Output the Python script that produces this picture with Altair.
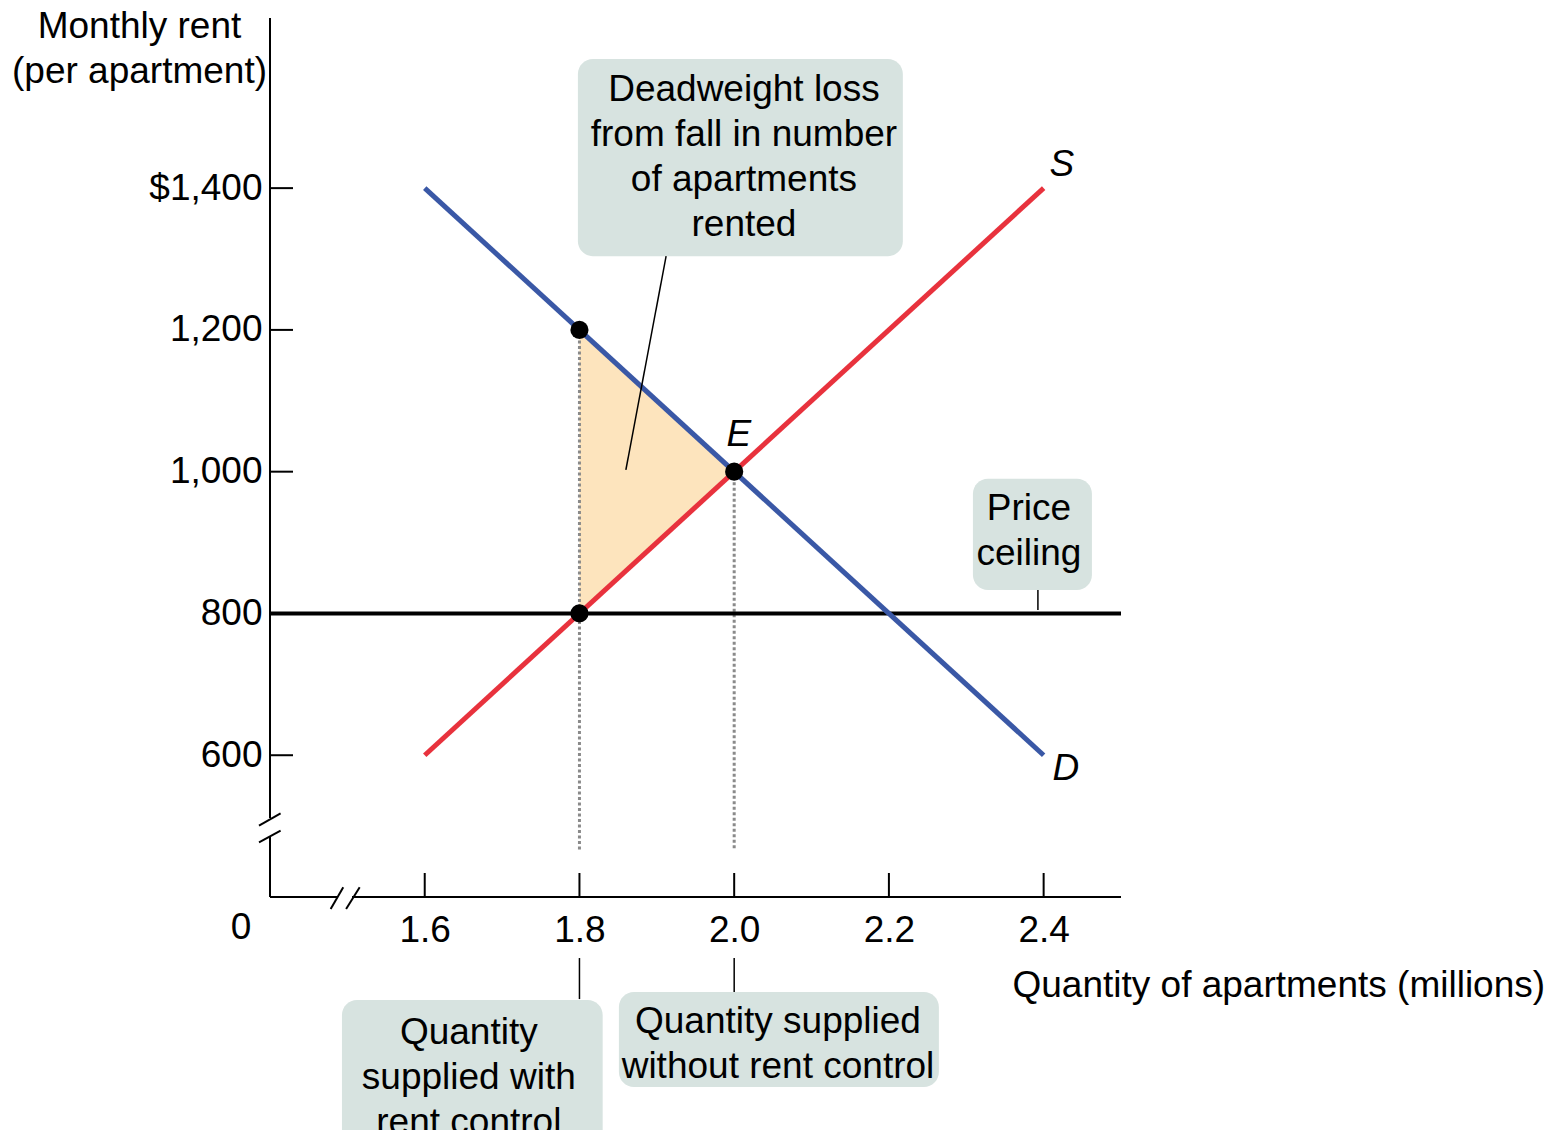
import altair as alt
import pandas as pd

FONT = "Liberation Sans"
FS = 37

# ---- data ----
quantity_ticks = [1.6, 1.8, 2.0, 2.2, 2.4]
price_ticks = [600, 800, 1000, 1200, 1400]

supply_q = [1.6, 2.4]
supply_p = [600, 1400]
demand_q = [1.6, 2.4]
demand_p = [1400, 600]
price_ceiling = 800
q_with_control = 1.8
q_equilibrium = 2.0
p_equilibrium = 1000
p_demand_at_ceiling = 1200

X_DOMAIN = [1.4, 2.5]
Y_DOMAIN = [400, 1640]
W, H = 851, 879

xs = alt.Scale(domain=X_DOMAIN, nice=False, zero=False)
ys = alt.Scale(domain=Y_DOMAIN, nice=False, zero=False)

XAX = alt.Axis(
    values=quantity_ticks, format=".1f", grid=False, domain=False, ticks=False,
    labelFont=FONT, labelFontSize=FS, labelColor="black", labelPadding=15,
    title="Quantity of apartments (millions)", titleFont=FONT, titleFontSize=FS,
    titleFontWeight="normal", titleColor="black", titleX=742, titleY=88,
    titleAlign="left", titleAnchor="start", titleBaseline="middle")
YAX = alt.Axis(
    values=price_ticks, grid=False, domain=False, ticks=False,
    labelExpr="datum.value == 1400 ? '$1,400' : format(datum.value, ',')",
    labelFont=FONT, labelFontSize=FS, labelColor="black", labelPadding=8,
    title=["Monthly rent", "(per apartment)"], titleFont=FONT, titleFontSize=FS,
    titleFontWeight="normal", titleColor="black", titleAngle=0,
    titleX=-131, titleY=19, titleAlign="center", titleBaseline="alphabetic",
    titleLineHeight=45)


def X(f="x"):
    return alt.X(f"{f}:Q", scale=xs, axis=XAX)


def Y(f="y"):
    return alt.Y(f"{f}:Q", scale=ys, axis=YAX)


RED = "#e8323d"
BLUE = "#3a58a6"
BOX = "#d7e3e0"
TRI = "#fde4bd"

supply_df = pd.DataFrame({"x": supply_q, "y": supply_p})
demand_df = pd.DataFrame({"x": demand_q, "y": demand_p})

# Deadweight-loss triangle
tri_df = pd.DataFrame({
    "x": [q_with_control, q_equilibrium],
    "y": [p_demand_at_ceiling, p_equilibrium],
    "y2": [price_ceiling, p_equilibrium],
})
tri = alt.Chart(tri_df).mark_area(color=TRI, opacity=1).encode(
    x=X(), y=Y(), y2="y2:Q")

# dotted guide lines
dot_df = pd.DataFrame({
    "x": [q_with_control, q_equilibrium],
    "y": [p_demand_at_ceiling - 15, p_equilibrium - 15],
    "y2": [466, 466],
})
dotted = alt.Chart(dot_df).mark_rule(color="#8a8a8a", strokeWidth=3, strokeDash=[3, 2.5]).encode(
    x=X(), y=Y(), y2="y2:Q")

# price ceiling line
ceil_df = pd.DataFrame({"x": [X_DOMAIN[0]], "x2": [X_DOMAIN[1]], "y": [price_ceiling]})
ceiling = alt.Chart(ceil_df).mark_rule(color="black", strokeWidth=4).encode(
    x=X(), x2="x2:Q", y=Y())

supply = alt.Chart(supply_df).mark_line(color=RED, strokeWidth=5).encode(x=X(), y=Y())
demand = alt.Chart(demand_df).mark_line(color=BLUE, strokeWidth=5).encode(x=X(), y=Y())

# points
pts_df = pd.DataFrame({
    "x": [q_with_control, q_equilibrium, q_with_control],
    "y": [p_demand_at_ceiling, p_equilibrium, price_ceiling],
})
points = alt.Chart(pts_df).mark_point(filled=True, color="black", size=330, opacity=1).encode(
    x=X(), y=Y())

# axis lines with breaks
axis_df = pd.DataFrame({
    "x": [1.4, 1.4, 1.4, 1.506],
    "x2": [1.4, 1.4, 1.4866, 2.5],
    "y": [1640, 485, 400, 400],
    "y2": [511.5, 400, 400, 400],
})
axes = alt.Chart(axis_df).mark_rule(color="black", strokeWidth=2).encode(
    x=X(), x2="x2:Q", y=Y(), y2="y2:Q")

break_df = pd.DataFrame({
    "x": [1.3858, 1.3858, 1.4784, 1.4984],
    "x2": [1.4137, 1.4137, 1.4947, 1.5159],
    "y": [500.6, 477.2, 383, 383],
    "y2": [518.1, 493.5, 413.7, 413.7],
})
breaks = alt.Chart(break_df).mark_rule(color="black", strokeWidth=2).encode(
    x=X(), x2="x2:Q", y=Y(), y2="y2:Q")

# tick marks pointing into the plot
ytick_df = pd.DataFrame({"y": price_ticks})
yticks = alt.Chart(ytick_df).mark_rule(color="black", strokeWidth=2).encode(
    y=Y(), x=alt.value(0), x2=alt.value(23))
xtick_df = pd.DataFrame({"x": quantity_ticks})
xticks = alt.Chart(xtick_df).mark_rule(color="black", strokeWidth=2).encode(
    x=X(), y=alt.value(H), y2=alt.value(H - 24))

# origin label
zero_df = pd.DataFrame({"x": [1.3625], "y": [356], "t": ["0"]})
zero = alt.Chart(zero_df).mark_text(font=FONT, fontSize=FS, color="black",
                                    align="center", baseline="middle").encode(
    x=X(), y=Y(), text="t:N")

# curve labels
lab_df = pd.DataFrame({
    "x": [2.4236, 2.4288],
    "y": [1433, 580],
    "t": ["S", "D"],
})
curve_labels = alt.Chart(lab_df).mark_text(font=FONT, fontSize=FS, color="black",
                                           fontStyle="italic", align="center", baseline="middle").encode(
    x=X(), y=Y(), text="t:N")
e_df = pd.DataFrame({"x": [2.006], "y": [1052], "t": ["E"]})
e_label = alt.Chart(e_df).mark_text(font=FONT, fontSize=FS, color="black",
                                    fontStyle="italic", align="center", baseline="middle").encode(
    x=X(), y=Y(), text="t:N")

# annotation boxes
box_df = pd.DataFrame({
    "x": [1.798, 2.3086, 1.493, 1.851],
    "x2": [2.218, 2.4624, 1.830, 2.2646],
    "y": [1582, 990, 254.7, 266],
    "y2": [1304, 833, 40, 132],
})
boxes = alt.Chart(box_df).mark_rect(color=BOX, cornerRadius=15).encode(
    x=X(), x2="x2:Q", y=Y(), y2="y2:Q")

# y = position of the first line of each note
box_text_df = pd.DataFrame({
    "x": [2.0126, 2.381, 1.657, 2.0566],
    "y": [1539, 948, 208, 224],
    "t": [
        "Deadweight loss\nfrom fall in number\nof apartments\nrented",
        "Price\nceiling",
        "Quantity\nsupplied with\nrent control",
        "Quantity supplied\nwithout rent control",
    ],
})
box_text = alt.Chart(box_text_df).mark_text(font=FONT, fontSize=FS, color="black",
                                            align="center", baseline="middle",
                                            lineBreak="\n", lineHeight=45).encode(
    x=X(), y=Y(), text="t:N")

leader_df = pd.DataFrame({
    "x": [1.912, 2.3926, 1.8, 2.0],
    "x2": [1.860, 2.3926, 1.8, 2.0],
    "y": [1304, 833, 313.9, 313.9],
    "y2": [1002.5, 805, 256, 266],
})
leaders = alt.Chart(leader_df).mark_rule(color="black", strokeWidth=1.5).encode(
    x=X(), x2="x2:Q", y=Y(), y2="y2:Q")

chart = alt.layer(
    tri, dotted, ceiling, demand, supply,
    points, axes, breaks, yticks, xticks, zero, curve_labels, e_label,
    boxes, box_text, leaders,
).properties(
    width=W, height=H,
    background="white",
    autosize=alt.AutoSizeParams(type="none"),
    padding={"left": 262, "top": 10, "right": 438, "bottom": 233},
).configure_view(stroke="transparent", strokeWidth=0)

chart.save("out.html", embed_options={"renderer": "svg", "actions": False})
